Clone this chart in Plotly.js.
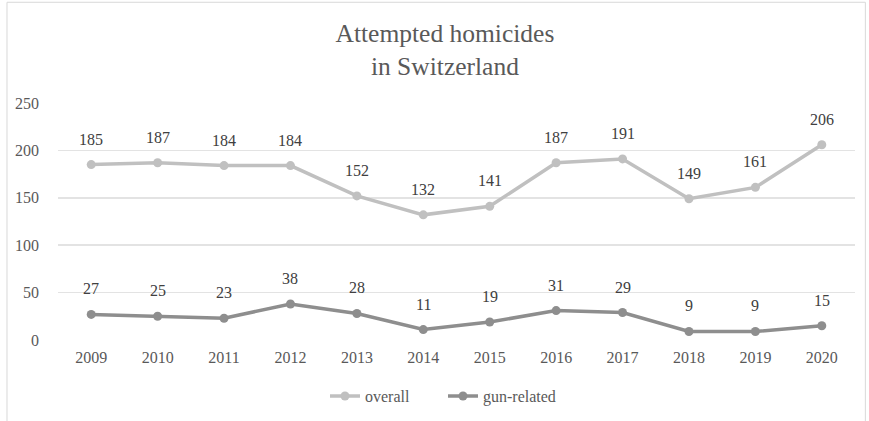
<!DOCTYPE html>
<html><head><meta charset="utf-8">
<script src="https://cdn.plot.ly/plotly-3.0.1.min.js"></script>
<style>body{margin:0;background:#fff}#c{width:869px;height:421px}</style>
</head><body><div id="c"></div>
<script>
const years = ['2009','2010','2011','2012','2013','2014','2015','2016','2017','2018','2019','2020'];
const overall = [185,187,184,184,152,132,141,187,191,149,161,206];
const gunRelated = [27,25,23,38,28,11,19,31,29,9,9,15];
const yTicks = [0,50,100,150,200,250];

const fam = '"Liberation Serif", "Times New Roman", serif';
const colors = {overall:'#c0c0c0', gun:'#8e8e8e'};
function trace(name, y, color){
  return {type:'scatter', mode:'lines+markers', name:name, x:years, y:y,
    line:{color:color, width:3.5}, marker:{color:color, size:9},
    cliponaxis:false, hoverinfo:'skip'};
}
function labels(y){
  return y.map((v,i)=>({x:i, y:v, xref:'x', yref:'y', text:String(v), showarrow:false,
    yanchor:'bottom', yshift:15, font:{family:fam, size:16, color:'#404040'}}));
}
const data = [trace('overall', overall, colors.overall), trace('gun-related', gunRelated, colors.gun)];
const layout = {
  width:869, height:421, margin:{l:58, r:14, t:103, b:81, autoexpand:false},
  paper_bgcolor:'#fff', plot_bgcolor:'#fff',
  font:{family:fam, size:16, color:'#595959'},
  title:{text:'Attempted homicides<br>in Switzerland', x:0.512, xanchor:'center', y:0.9, yanchor:'top',
    font:{family:fam, size:25.5, color:'#595959'}},
  xaxis:{type:'category', range:[-0.5,11.5], showgrid:false, zeroline:false, showline:false, ticks:'',
    automargin:false, ticklabelstandoff:6, tickfont:{size:16, color:'#595959'}},
  yaxis:{range:[0,250], tickvals:yTicks, showgrid:true, gridcolor:'#e3e3e3', gridwidth:1.5, zeroline:false,
    automargin:false, showline:false, ticks:'', ticklabelstandoff:18, tickfont:{size:16, color:'#595959'}},
  showlegend:true,
  legend:{orientation:'h', x:0.335, xanchor:'left', y:-0.165, yanchor:'top', bgcolor:'rgba(0,0,0,0)',
    entrywidth:73, font:{size:16, color:'#595959'}, tracegroupgap:0},
  annotations:[...labels(overall), ...labels(gunRelated)],
  shapes:[{type:'rect', xref:'paper', yref:'paper', x0:-0.064, x1:1.013, y0:-0.5, y1:1.425,
    line:{color:'#d9d9d9', width:1}, fillcolor:'rgba(0,0,0,0)'}]
};
Plotly.newPlot('c', data, layout, {displayModeBar:false, staticPlot:true});
</script></body></html>
